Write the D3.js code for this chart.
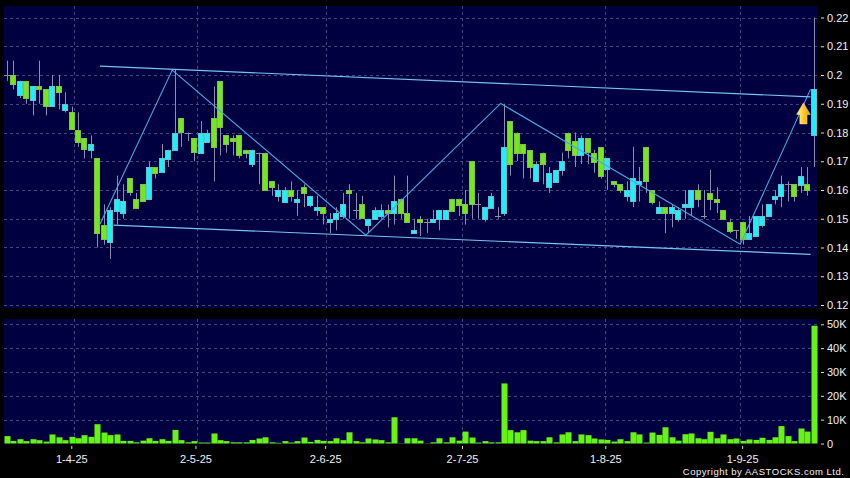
<!DOCTYPE html>
<html><head><meta charset="utf-8">
<script src="https://cdn.jsdelivr.net/npm/d3@7"></script>
<style>html,body{margin:0;padding:0;background:#000}svg{display:block}</style>
</head><body><div id="c"></div>
<script>
const opens=[.200,.200,.193,.198,.191,.196,.195,.189,.196,.188,.187,.181,.178,.174,.171,.148,.142,.153,.152,.164,.157,.162,.157,.168,.166,.171,.174,.185,.180,.178,.173,.177,.185,.198,.179,.178,.179,.174,.169,.173,.173,.163,.158,
.156,.160,.156,.161,.155,.153,.154,.149,.150,.151,.160,.153,.155,.148,.150,.151,.153,.152,.157,.152,.145,.150,.149,.149,.150,.150,.157,.157,.155,.170,.155,.150,.154,.151,.152,.184,.180,.176,.174,.163,.173,.161,.163,
.167,.180,.177,.172,.178,.173,.175,.167,.163,.162,.158,.156,.162,.175,.160,.152,.154,.152,.150,.154,.154,.160,.151,.159,.157,.153,.149,.146,.149,.143,.144,.148,.151,.157,.158,.162,.162,.162,.162,.179];
const closes=[.200,.197,.198,.192,.196,.195,.189,.196,.194,.190,.181,.177,.174,.176,.145,.143,.153,.157,.156,.159,.154,.156,.168,.166,.171,.174,.180,.180,.180,.173,.180,.180,.175,.182,.176,.177,.172,.173,.174,.173,.160,.161,.160,
.160,.158,.157,.159,.158,.154,.152,.150,.152,.155,.159,.153,.150,.150,.153,.153,.152,.156,.152,.149,.146,.149,.149,.150,.153,.153,.153,.155,.152,.155,.155,.154,.158,.151,.175,.169,.173,.173,.168,.169,.169,.166,.167,
.170,.174,.172,.178,.173,.170,.165,.171,.162,.160,.160,.164,.163,.163,.156,.154,.152,.154,.153,.155,.160,.157,.151,.157,.156,.150,.146,.146,.143,.145,.151,.151,.155,.158,.162,.162,.158,.165,.160,.195];
const highs=[.205,.205,.198,.198,.196,.205,.195,.200,.200,.194,.189,.187,.178,.179,.171,.155,.154,.165,.162,.164,.159,.162,.170,.168,.176,.174,.202,.185,.180,.178,.184,.181,.196,.198,.179,.179,.179,.174,.174,.173,.173,.163,.162,
.161,.163,.160,.162,.158,.158,.154,.152,.154,.159,.162,.159,.158,.150,.154,.155,.155,.165,.157,.165,.150,.151,.150,.153,.153,.153,.157,.157,.160,.170,.159,.154,.159,.154,.190,.184,.180,.176,.174,.170,.173,.168,.167,
.173,.180,.180,.179,.178,.174,.175,.171,.163,.162,.163,.175,.168,.175,.160,.156,.154,.155,.154,.160,.160,.162,.160,.167,.161,.153,.150,.146,.149,.151,.151,.155,.155,.160,.165,.163,.162,.168,.168,.220];
const lows=[.198,.195,.192,.190,.186,.190,.186,.189,.188,.187,.181,.175,.171,.171,.140,.141,.136,.148,.150,.158,.154,.156,.157,.164,.166,.168,.174,.175,.177,.170,.173,.177,.163,.172,.173,.172,.171,.171,.168,.162,.160,.158,.156,
.156,.156,.151,.154,.154,.151,.148,.145,.146,.150,.150,.150,.150,.145,.150,.150,.147,.148,.150,.149,.145,.144,.145,.149,.146,.150,.153,.151,.148,.150,.150,.149,.154,.150,.151,.165,.170,.164,.164,.163,.162,.159,.163,
.165,.171,.168,.169,.169,.166,.164,.160,.161,.159,.156,.154,.156,.159,.155,.152,.145,.147,.149,.150,.151,.154,.150,.153,.152,.150,.145,.143,.141,.143,.144,.147,.151,.155,.154,.156,.156,.159,.158,.168];
const volumes=[3.1,1.1,1.8,1.0,1.8,1.4,.8,3.8,2.6,1.4,2.8,2.2,3.5,2.8,8.1,4.6,3.5,3.8,1.1,1.1,.5,1.2,2.2,1.1,1.8,1.1,5.7,1.4,.5,1.0,.4,.4,4.2,1.4,1.0,.5,.5,.5,1.5,2.1,2.6,.5,.3,1.0,.4,
1.0,2.5,.7,1.5,1.1,1.0,2.2,1.4,4.7,1.0,.5,2.1,1.7,1.4,.5,11.0,.1,2.2,2.2,1.2,.1,.5,2.2,.5,2.6,1.2,5.0,2.5,.4,1.0,.5,.5,25.2,5.6,4.7,5.6,1.2,1.0,1.0,2.6,.5,3.8,4.7,
1.0,3.8,3.5,2.1,1.7,1.5,.8,1.8,1.0,4.7,3.8,.4,4.6,3.6,6.8,2.6,1.2,3.9,4.2,2.2,1.8,4.9,2.2,3.8,1.8,2.1,1.1,1.7,1.5,2.4,1.5,2.6,7.3,3.1,1.0,6.3,5.0,49.4];
const priceTicks=[.22,.21,.2,.19,.18,.17,.16,.15,.14,.13,.12];
const volumeTicks=[50,40,30,20,10,0];
const dateLabels=["1-4-25","2-5-25","2-6-25","2-7-25","1-8-25","1-9-25"];
const dateTickIndex=[9.96,29.2,49.3,70.5,92.7,113.9];
const dateGridIndex=[10.4,29.5,49.5,70.5,92.6,113.5];
const channelTop=[[14.4,.2031],[124.5,.1924]];
const channelBottom=[[16.5,.1478],[124.5,.1376]];
const zigzag=[[14.4,.1481],[25.6,.2017],[55.6,.1443],[76.5,.1901],[113.6,.1411],[124.5,.195]];
const arrowAt=[123.4,.1903];

const W=850,H=478,panelL=4,panelR=817;
const svg=d3.select("#c").append("svg").attr("width",W).attr("height",H);
svg.append("rect").attr("width",W).attr("height",H).attr("fill","#000");
const x=d3.scaleLinear().domain([0,125]).range([7,813.75]);
const y=d3.scaleLinear().domain([.12,.22]).range([305,17.5]);
const yv=d3.scaleLinear().domain([0,50]).range([443.5,324.3]);
const BG="#000040",GRID="#45457f",GREEN="#74e81a",CYAN="#20eefa",WICK="#8c8cac",EDGE_G="#7cc24a",EDGE_C="#5cc4d0",VG="#66f512";

svg.append("rect").attr("x",panelL).attr("y",6).attr("width",panelR-panelL).attr("height",302).attr("fill",BG);
svg.append("rect").attr("x",panelL).attr("y",319).attr("width",panelR-panelL).attr("height",125).attr("fill",BG);

function dashed(g){g.attr("stroke",GRID).attr("stroke-width",1).attr("stroke-dasharray","3,3").attr("shape-rendering","crispEdges");}
const grid=svg.append("g");
grid.selectAll(".hp").data(priceTicks).join("line").attr("x1",panelL).attr("x2",panelR).attr("y1",d=>Math.round(y(d))+.5).attr("y2",d=>Math.round(y(d))+.5).call(dashed);
grid.selectAll(".hv").data(volumeTicks.filter(d=>d>0),d=>d).join(enter=>enter.append("line")).attr("x1",panelL).attr("x2",panelR).attr("y1",d=>Math.round(yv(d))+.5).attr("y2",d=>Math.round(yv(d))+.5).call(dashed);
dateGridIndex.forEach(i=>{
  const gx=Math.round(x(i))+.5;
  grid.append("line").attr("x1",gx).attr("x2",gx).attr("y1",6).attr("y2",308).call(dashed);
  grid.append("line").attr("x1",gx).attr("x2",gx).attr("y1",319).attr("y2",444).call(dashed);
});

// candles
const idx=d3.range(opens.length);
const cg=svg.append("g");
cg.selectAll(".w").data(idx).join("line").attr("x1",i=>Math.round(x(i))+.5).attr("x2",i=>Math.round(x(i))+.5)
  .attr("y1",i=>y(highs[i])).attr("y2",i=>y(lows[i])).attr("stroke",WICK).attr("stroke-width",1);
const bodyW=5;
cg.selectAll(".b").data(idx).join("rect")
  .attr("x",i=>Math.round(x(i))-2.5).attr("width",bodyW)
  .attr("y",i=>Math.round(y(Math.max(opens[i],closes[i])))+.5)
  .attr("height",i=>Math.max(Math.round(Math.abs(y(opens[i])-y(closes[i]))),0.01))
  .attr("fill",i=>closes[i]>opens[i]?CYAN:GREEN)
  .attr("stroke",i=>closes[i]===opens[i]?WICK:(closes[i]>opens[i]?EDGE_C:EDGE_G)).attr("stroke-width",1);

// lines
const toLine=d3.line().x(d=>x(d[0])).y(d=>y(d[1]));
svg.append("path").attr("d",toLine(zigzag)).attr("fill","none").attr("stroke","#4da6e2").attr("stroke-width",1.1);
[channelTop,channelBottom].forEach(c=>svg.append("path").attr("d",toLine(c)).attr("fill","none").attr("stroke","#78c4f0").attr("stroke-width",1.2));

// arrow
const defs=svg.append("defs");
const grad=defs.append("linearGradient").attr("id","ag").attr("x1",0).attr("x2",1).attr("y1",0).attr("y2",0);
grad.append("stop").attr("offset","0").attr("stop-color","#fff6b0");
grad.append("stop").attr("offset",".45").attr("stop-color","#ffd02a");
grad.append("stop").attr("offset","1").attr("stop-color","#e8960e");
svg.append("path").attr("transform",`translate(${x(arrowAt[0])},${y(arrowAt[1])})`)
  .attr("d","M0,0L6.8,11.5L3.6,11.5L3.6,21L-3.6,21L-3.6,11.5L-6.8,11.5Z")
  .attr("fill","url(#ag)").attr("stroke","#ffeea0").attr("stroke-width",.5);

// volume
svg.append("g").selectAll("rect").data(volumes).join("rect")
  .attr("x",(d,i)=>Math.round(x(i))-2.5).attr("width",6)
  .attr("y",d=>yv(d)).attr("height",d=>yv(0)-yv(d))
  .attr("fill",VG);

// axes
const fontCss="Liberation Sans, Arial, sans-serif";
function styleAxis(g){
  g.select(".domain").remove();
  g.selectAll(".tick line").attr("stroke","#dddddd");
  g.selectAll(".tick text").attr("fill","#f2f2f2").style("font-family",fontCss).style("font-size","11px");
}
svg.append("g").attr("transform","translate(821,0)")
  .call(d3.axisRight(y).tickValues(priceTicks).tickFormat(d=>String(d)).tickSize(3).tickPadding(3)).call(styleAxis);
svg.append("g").attr("transform","translate(821,0)")
  .call(d3.axisRight(yv).tickValues(volumeTicks).tickFormat(d=>d===0?"0":d+"K").tickSize(3).tickPadding(3)).call(styleAxis);
const xa=d3.scaleOrdinal().domain(dateLabels).range(dateTickIndex.map(i=>x(i)));
svg.append("g").attr("transform","translate(0,446)")
  .call(d3.axisBottom(xa).tickSize(3).tickPadding(6)).call(styleAxis);

svg.append("text").attr("x",844.5).attr("y",475).attr("text-anchor","end")
  .attr("fill","#f2f2f2").style("font-family",fontCss).style("font-size","9.5px").style("letter-spacing","0.52px")
  .text("Copyright by AASTOCKS.com Ltd.");
</script></body></html>
